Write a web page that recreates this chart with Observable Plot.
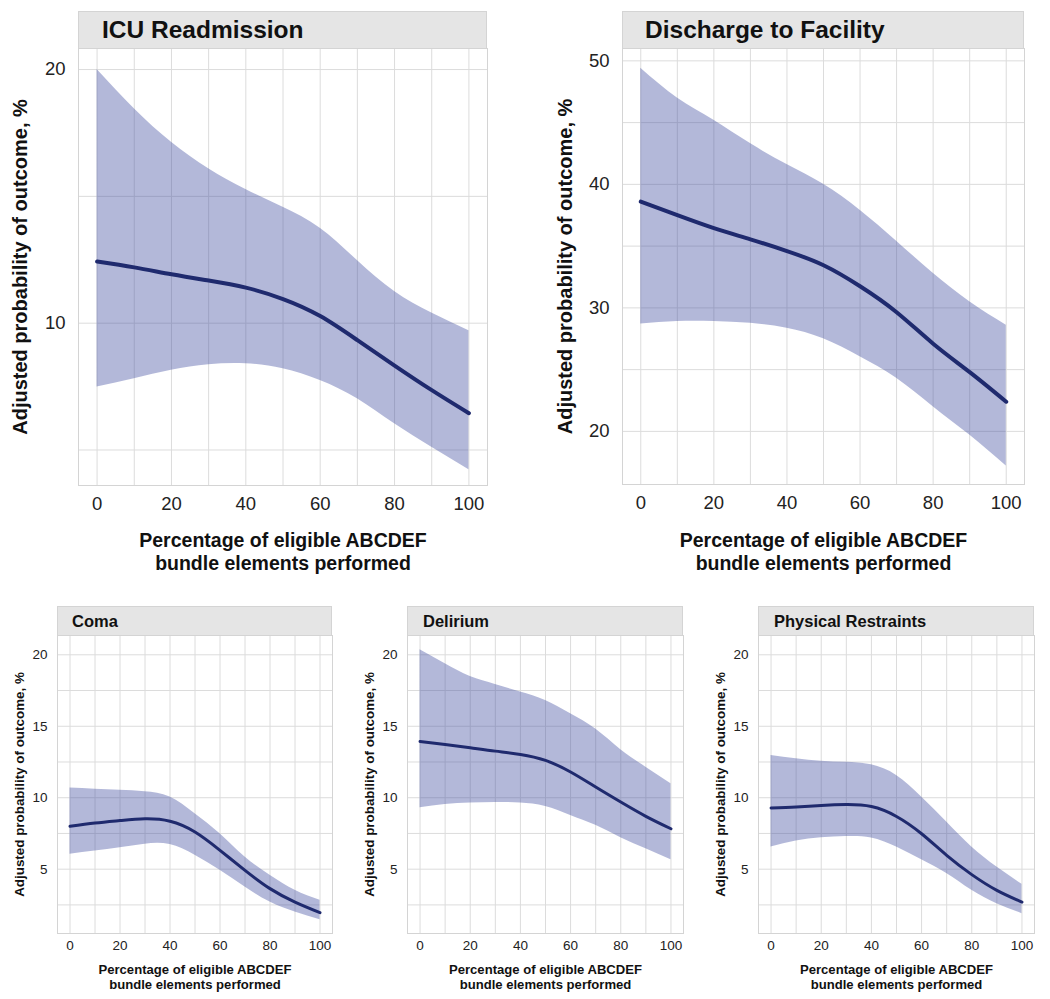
<!DOCTYPE html>
<html>
<head>
<meta charset="utf-8">
<script src="https://cdn.jsdelivr.net/npm/d3@7"></script>
<script src="https://cdn.jsdelivr.net/npm/@observablehq/plot@0.6"></script>
<style>
  html, body { margin: 0; padding: 0; background: #fff; }
  #chart { position: relative; width: 1050px; height: 999px; font-family: "Liberation Sans", Arial, sans-serif; }
  .panel { position: absolute; }
  .strip { position: absolute; background: #e5e5e5; border: 1px solid #d4d4d4; box-sizing: border-box;
           font-weight: bold; color: #111; white-space: nowrap; }
</style>
</head>
<body>
<div id="chart"></div>
<script>
// ---- data ----
const pct = [0, 10, 20, 30, 40, 50, 60, 70, 80, 90, 100];

const icuFit  = [12.43, 12.2, 11.93, 11.68, 11.4, 10.95, 10.28, 9.33, 8.33, 7.36, 6.45];
const icuLow  = [7.48, 7.81, 8.14, 8.36, 8.4, 8.2, 7.74, 7.02, 6.03, 5.11, 4.22];
const icuHigh = [20.0, 18.45, 17.13, 16.09, 15.27, 14.57, 13.74, 12.47, 11.25, 10.4, 9.7];

const dischFit  = [38.6, 37.5, 36.45, 35.55, 34.6, 33.45, 31.75, 29.65, 27.1, 24.8, 22.4];
const dischLow  = [28.7, 28.9, 28.9, 28.75, 28.35, 27.5, 26.05, 24.3, 22.0, 19.7, 17.2];
const dischHigh = [49.4, 47.0, 45.2, 43.3, 41.6, 40.0, 37.9, 35.4, 32.8, 30.5, 28.6];

const comaFit  = [8.0, 8.23, 8.4, 8.52, 8.35, 7.6, 6.32, 4.92, 3.64, 2.7, 1.96];
const comaLow  = [6.04, 6.27, 6.5, 6.75, 6.72, 5.97, 4.92, 3.75, 2.7, 2.0, 1.47];
const comaHigh = [10.68, 10.6, 10.52, 10.42, 10.05, 8.88, 7.48, 5.85, 4.57, 3.52, 2.82];

const delFit  = [13.94, 13.73, 13.5, 13.26, 13.03, 12.61, 11.8, 10.75, 9.7, 8.7, 7.83];
const delLow  = [9.3, 9.53, 9.63, 9.67, 9.63, 9.39, 8.76, 8.07, 7.2, 6.43, 5.66];
const delHigh = [20.35, 19.37, 18.48, 17.93, 17.39, 16.8, 15.87, 14.8, 13.36, 12.14, 10.98];

const prFit  = [9.28, 9.35, 9.46, 9.52, 9.38, 8.69, 7.48, 5.97, 4.62, 3.52, 2.7];
const prLow  = [6.55, 6.97, 7.2, 7.28, 7.18, 6.55, 5.66, 4.69, 3.52, 2.59, 1.89];
const prHigh = [12.96, 12.73, 12.56, 12.48, 12.3, 11.56, 10.05, 8.3, 6.55, 5.15, 3.94];

const xTicks = [0, 20, 40, 60, 80, 100];
const xGrid = [0, 10, 20, 30, 40, 50, 60, 70, 80, 90, 100];
const icuYTicks = [10, 20];
const icuYGrid = [5, 10, 15, 20];
const dischYTicks = [20, 30, 40, 50];
const dischYGrid = [20, 25, 30, 35, 40, 45, 50];
const smallYTicks = [5, 10, 15, 20];
const smallYGrid = [2.5, 5, 7.5, 10, 12.5, 15, 17.5, 20];

const yTitle = "Adjusted probability of outcome, %";
const xTitle = "Percentage of eligible ABCDEF\nbundle elements performed";

const ribbonFill = "#414ea0";
const lineColor = "#1f2a6e";
const gridColor = "#dcdcdc";

const chart = document.getElementById("chart");

function panel(cfg) {
  const rows = pct.map((x, i) => ({x, fit: cfg.fit[i], lo: cfg.lo[i], hi: cfg.hi[i]}));
  const big = cfg.big;
  const svg = Plot.plot({
    width: cfg.width,
    height: cfg.height,
    marginLeft: cfg.ml,
    marginRight: cfg.mr,
    marginTop: cfg.mt,
    marginBottom: cfg.mb,
    style: {fontFamily: "'Liberation Sans', Arial, sans-serif", background: "transparent", color: "#222"},
    x: {domain: [-5, 105]},
    y: {domain: cfg.yDomain},
    marks: [
      Plot.gridX(xGrid, {stroke: gridColor, strokeOpacity: 1, strokeWidth: 1}),
      Plot.gridY(cfg.yGrid, {stroke: gridColor, strokeOpacity: 1, strokeWidth: 1}),
      Plot.frame({stroke: "#d4d4d4", strokeWidth: 1}),
      Plot.areaY(rows, {x: "x", y1: "lo", y2: "hi", fill: ribbonFill, fillOpacity: 0.4, curve: "natural"}),
      Plot.lineY(rows, {x: "x", y: "fit", stroke: lineColor, strokeWidth: big ? 4 : 3, curve: "natural"}),
      Plot.axisX(xTicks, {tickSize: 0, tickPadding: big ? 11 : 7, fontSize: big ? 18.5 : 13.5, label: null, fill: "#222"}),
      Plot.axisY(cfg.yTicks, {tickSize: 0, tickPadding: big ? 13 : 10, fontSize: big ? 18.5 : 13.5, label: null, fill: "#222"}),
      Plot.text([yTitle], {frameAnchor: "left", rotate: -90, dx: cfg.yTitleDx, text: d => d,
        fontSize: big ? 20 : 13.4, fontWeight: "bold", fill: "#111", textAnchor: "middle", lineAnchor: "middle"}),
      Plot.text([xTitle], {frameAnchor: "bottom", dy: cfg.xTitleDy, text: d => d,
        fontSize: big ? 19.5 : 13.1, fontWeight: "bold", fill: "#111", lineAnchor: "middle",
        lineHeight: big ? 1.18 : 1.15})
    ]
  });
  svg.classList.add("panel");
  svg.style.left = cfg.left + "px";
  svg.style.top = cfg.top + "px";
  chart.appendChild(svg);

  const strip = document.createElement("div");
  strip.className = "strip";
  strip.textContent = cfg.title;
  strip.style.left = cfg.strip.left + "px";
  strip.style.top = cfg.strip.top + "px";
  strip.style.width = cfg.strip.width + "px";
  strip.style.height = cfg.strip.height + "px";
  strip.style.fontSize = cfg.strip.fontSize + "px";
  strip.style.lineHeight = (cfg.strip.height - 2) + "px";
  strip.style.paddingLeft = cfg.strip.pad + "px";
  chart.appendChild(strip);
}

panel({title: "ICU Readmission", big: true, fit: icuFit, lo: icuLow, hi: icuHigh,
  left: 0, top: 0, width: 505, height: 600, ml: 78, mr: 18, mt: 48, mb: 115,
  yDomain: [3.6, 20.83], yTicks: icuYTicks, yGrid: icuYGrid, yTitleDx: -58, xTitleDy: 66,
  strip: {left: 78, top: 11, width: 409, height: 38, fontSize: 24.5, pad: 23}});

panel({title: "Discharge to Facility", big: true, fit: dischFit, lo: dischLow, hi: dischHigh,
  left: 520, top: 0, width: 530, height: 600, ml: 102, mr: 26, mt: 48, mb: 116,
  yDomain: [15.7, 51.0], yTicks: dischYTicks, yGrid: dischYGrid, yTitleDx: -57, xTitleDy: 67,
  strip: {left: 622, top: 11, width: 402, height: 38, fontSize: 24.5, pad: 22}});

const smallCommon = {big: false, top: 600, height: 399, mt: 35, mb: 66, yDomain: [0.5, 21.35],
  yTicks: smallYTicks, yGrid: smallYGrid, yTitleDx: -38, xTitleDy: 43};

panel({...smallCommon, title: "Coma", fit: comaFit, lo: comaLow, hi: comaHigh,
  left: 0, width: 345, ml: 57, mr: 13,
  strip: {left: 57, top: 606, width: 275, height: 30, fontSize: 16.5, pad: 14}});

panel({...smallCommon, title: "Delirium", fit: delFit, lo: delLow, hi: delHigh,
  left: 350, width: 345, ml: 57, mr: 12,
  strip: {left: 407, top: 606, width: 276, height: 30, fontSize: 16.5, pad: 15}});

panel({...smallCommon, title: "Physical Restraints", fit: prFit, lo: prLow, hi: prHigh,
  left: 700, width: 350, ml: 58, mr: 16,
  strip: {left: 758, top: 606, width: 276, height: 30, fontSize: 16.5, pad: 15}});
</script>
</body>
</html>
